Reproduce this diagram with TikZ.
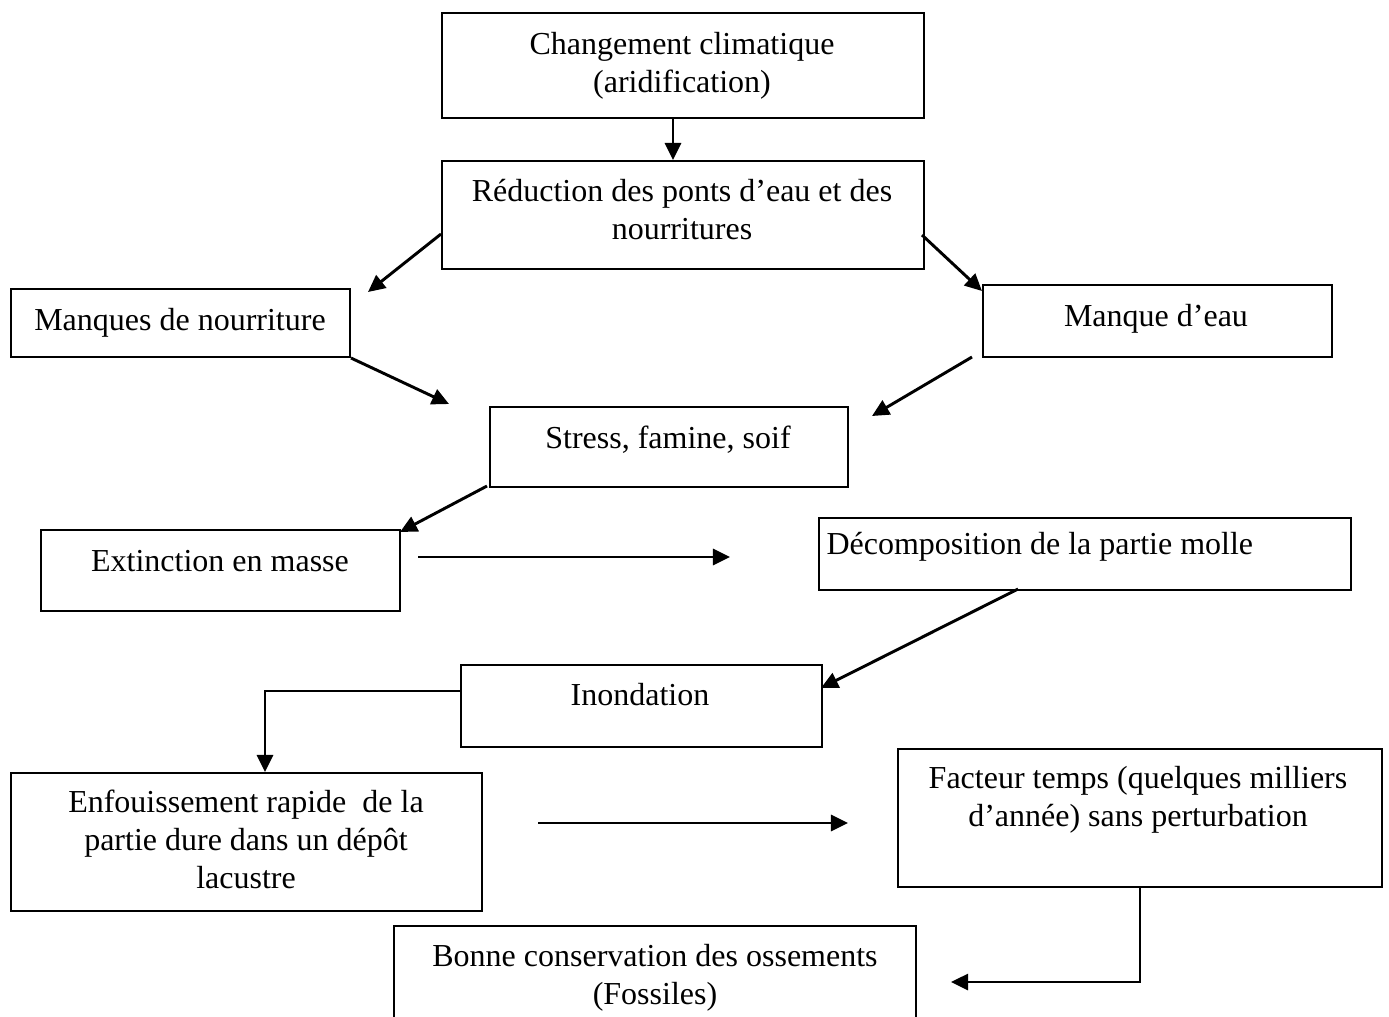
\documentclass[tikz,border=0pt]{standalone}
\usepackage{fontspec}
\setmainfont{Liberation Serif}
\usetikzlibrary{arrows.meta}
\begin{document}
\begin{tikzpicture}[x=0.375pt,y=-0.375pt,
  box/.style={draw=black,line width=0.75pt,rectangle,inner sep=0pt,anchor=north west},
  txt/.style={align=center,inner sep=0pt,font=\fontsize{12pt}{14.25pt}\selectfont},
  arr/.style={line width=1.1pt,-{Triangle[length=6.4pt,width=6pt]}}]
\path[use as bounding box,clip] (0,0) rectangle (1389,1016);
\fill[white] (0,0) rectangle (1389,1016);
% boxes
\node[box,minimum width=482*0.375pt,minimum height=105*0.375pt] (b1) at (441,12) {};
\node[box,minimum width=482*0.375pt,minimum height=108*0.375pt] (b2) at (441,160) {};
\node[box,minimum width=339*0.375pt,minimum height=68*0.375pt] (b3) at (10,288) {};
\node[box,minimum width=349*0.375pt,minimum height=72*0.375pt] (b4) at (982,284) {};
\node[box,minimum width=358*0.375pt,minimum height=80*0.375pt] (b5) at (489,406) {};
\node[box,minimum width=359*0.375pt,minimum height=81*0.375pt] (b6) at (40,529) {};
\node[box,minimum width=532*0.375pt,minimum height=72*0.375pt] (b7) at (818,517) {};
\node[box,minimum width=361*0.375pt,minimum height=82*0.375pt] (b8) at (460,664) {};
\node[box,minimum width=471*0.375pt,minimum height=138*0.375pt] (b9) at (10,772) {};
\node[box,minimum width=484*0.375pt,minimum height=138*0.375pt] (b10) at (897,748) {};
\node[box,minimum width=522*0.375pt,minimum height=120*0.375pt] (b11) at (393,925) {};
% texts
\node[txt] (t1) at (682,66) {Changement climatique\\(aridification)};
\node[txt] (t2) at (682,210) {Réduction des ponts d’eau et des\\nourritures};
\node[txt,anchor=base] (t3) at (180,330) {Manques de nourriture};
\node[txt,anchor=base] (t4) at (1156,326) {Manque d’eau};
\node[txt,anchor=base] (t5) at (668,448) {Stress, famine, soif};
\node[txt,anchor=base] (t6) at (220,571) {Extinction en masse};
\node[txt,anchor=base west] (t7) at (826,554) {Décomposition de la partie molle};
\node[txt,anchor=base] (t8) at (640,705) {Inondation};
\node[txt] (t9) at (246,839) {Enfouissement rapide \ de la\\partie dure dans un dépôt\\lacustre};
\node[txt] (t10) at (1138,800) {Facteur temps (quelques milliers\\d’année) sans perturbation};
\node[txt] (t11) at (655,978) {Bonne conservation des ossements\\(Fossiles)};
% connector points
\coordinate (p1s) at (673,117); \coordinate (p1e) at (673,160);
\coordinate (p2s) at (441,234); \coordinate (p2e) at (368,292);
\coordinate (p3s) at (922,235); \coordinate (p3e) at (982,291);
\coordinate (p4e) at (449,404);
\coordinate (p5s) at (972,357); \coordinate (p5e) at (872,416);
\coordinate (p6s) at (487,486); \coordinate (p6e) at (400,532);
\coordinate (p7s) at (418,557); \coordinate (p7e) at (730,557);
\coordinate (p8s) at (1018,589); \coordinate (p8e) at (821,688);
\coordinate (p9s) at (460,691); \coordinate (p9m) at (265,691); \coordinate (p9e) at (265,772);
\coordinate (p10s) at (538,823); \coordinate (p10e) at (848,823);
\coordinate (p11s) at (1140,886); \coordinate (p11m) at (1140,982); \coordinate (p11e) at (951,982);
% connectors
\draw[arr] (p1s) -- (p1e);
\draw[arr] (p2s) -- (p2e);
\draw[arr] (p3s) -- (p3e);
\draw[arr] (b3.south east) -- (p4e);
\draw[arr] (p5s) -- (p5e);
\draw[arr] (p6s) -- (p6e);
\draw[arr] (p7s) -- (p7e);
\draw[arr] (p8s) -- (p8e);
\draw[arr] (p9s) -- (p9m) -- (p9e);
\draw[arr] (p10s) -- (p10e);
\draw[arr] (p11s) -- (p11m) -- (p11e);
\end{tikzpicture}
\end{document}
